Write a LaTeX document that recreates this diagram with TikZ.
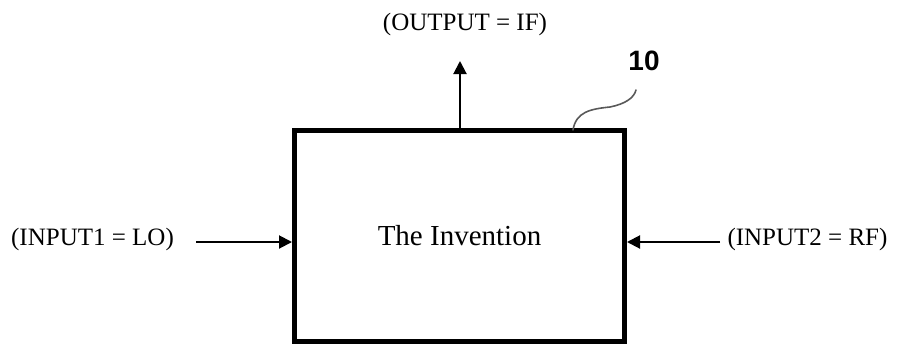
\documentclass[tikz,border=0pt]{standalone}
\usepackage{fontspec}
\setmainfont{Liberation Serif}
\newfontfamily\labelfont{Liberation Sans}
\usetikzlibrary{arrows.meta}
\tikzset{
  lbl/.style={font=\fontsize{25}{30}\selectfont, anchor=base, inner sep=0pt},
  arr/.style={line width=2pt, -{Triangle[width=13pt,length=13pt]}},
  boxstyle/.style={draw, line width=5pt, minimum width=330pt, minimum height=211pt,
                   inner sep=0pt, outer sep=0pt, font=\fontsize{29}{34}\selectfont},
  lead/.style={draw=black!65, line width=1.6pt, line cap=round}
}
\begin{document}
\begin{tikzpicture}[x=1pt,y=-1pt]
\useasboundingbox (0,0) rectangle (900,346);
\node[boxstyle] (box) at (459.5,236) {The Invention};
\node[lbl] (in1) at (92.5,245) {(INPUT1 = LO)};
\node[lbl] (in2) at (807.5,245) {(INPUT2 = RF)};
\node[lbl] (out) at (465,30) {(OUTPUT = IF)};
\node[anchor=base, inner sep=0pt, font=\labelfont\bfseries\fontsize{28}{32}\selectfont] (ref) at (644,70) {10};
\coordinate (l1) at (196,242);
\coordinate (l1e) at (292,242);
\coordinate (r1) at (720,242);
\coordinate (r1e) at (627,242);
\coordinate (o1) at (460,61);
\coordinate (s0) at (573,130);
\coordinate (s1) at (610,107);
\coordinate (s2) at (636,90);
\draw[arr] (l1) -- (l1e);
\draw[arr] (r1) -- (r1e);
\draw[arr] (box.north -| o1) -- (o1);
\draw[lead] (s0) .. controls (576,112) and (590,109) .. (s1) .. controls (625,104) and (634,98) .. (s2);
\end{tikzpicture}
\end{document}
